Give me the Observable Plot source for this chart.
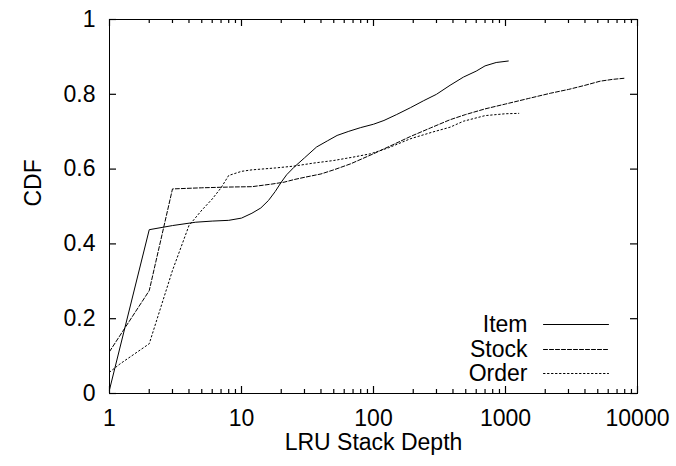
<!DOCTYPE html>
<html><head><meta charset="utf-8">
<script src="https://cdn.jsdelivr.net/npm/d3@7"></script>
<script src="https://cdn.jsdelivr.net/npm/@observablehq/plot@0.6"></script>
<style>body{margin:0;background:#fff}</style>
</head><body><div id="chart"></div>
<script>
const seriesNames = ["Item", "Stock", "Order"];
const dashes = ["none", "4,2", "1.5,2.5"];

const itemX = [1, 2, 3, 4.5, 6, 8, 10, 12, 14, 16, 18, 20, 22, 25, 30, 37, 45, 53, 65, 80, 100, 120, 150, 190, 240, 300, 380, 480, 600, 700, 850, 1050];
const itemY = [0.01, 0.438, 0.449, 0.458, 0.461, 0.463, 0.469, 0.482, 0.496, 0.516, 0.540, 0.565, 0.585, 0.605, 0.630, 0.659, 0.676, 0.690, 0.701, 0.711, 0.720, 0.730, 0.746, 0.764, 0.783, 0.800, 0.824, 0.846, 0.862, 0.876, 0.885, 0.889];

const stockX = [1, 2, 3, 5, 8, 12, 17, 21, 25, 30, 40, 50, 67, 100, 140, 190, 270, 380, 500, 700, 1000, 1500, 2200, 3000, 4000, 5200, 6500, 8000];
const stockY = [0.112, 0.275, 0.547, 0.550, 0.552, 0.553, 0.560, 0.565, 0.572, 0.578, 0.587, 0.598, 0.614, 0.641, 0.665, 0.687, 0.710, 0.732, 0.746, 0.761, 0.774, 0.789, 0.803, 0.813, 0.824, 0.835, 0.840, 0.843];

const orderX = [1, 1.2, 2, 3, 4, 5, 6, 7, 8, 10, 12, 18, 25, 35, 50, 70, 95, 130, 190, 280, 380, 480, 700, 1000, 1260];
const orderY = [0.057, 0.079, 0.133, 0.329, 0.449, 0.490, 0.520, 0.550, 0.583, 0.594, 0.598, 0.603, 0.608, 0.616, 0.623, 0.632, 0.641, 0.657, 0.681, 0.699, 0.712, 0.728, 0.743, 0.748, 0.749];

const xTickValues = [1, 10, 100, 1000, 10000];
const yTickValues = [0, 0.2, 0.4, 0.6, 0.8, 1];
const xMinorTicks = [0, 1, 2, 3].flatMap(e => [2, 3, 4, 5, 6, 7, 8, 9].map(m => m * 10 ** e));

const xs = [itemX, stockX, orderX];
const ys = [itemY, stockY, orderY];
const table = seriesNames.flatMap((s, i) => xs[i].map((x, j) => ({series: s, x, y: ys[i][j]})));

const lineShape = {draw(context, l) { context.moveTo(0, 0); context.lineTo(0, -l); }};
const legendDy = [-69, -44, -20];

const W = 676, H = 466, mL = 109, mR = 39, mT = 19, mB = 73;
const frameW = W - mL - mR, frameH = H - mT - mB;
const majorLen = 7, minorLen = 4;
const tk = {stroke: "#000", strokeWidth: 1.2};

const marks = [
  Plot.frame({stroke: "#000", fill: "none", strokeWidth: 1}),
  // tick labels
  Plot.axisX({ticks: xTickValues, tickSize: 0, tickPadding: 16, tickFormat: d => String(d), label: null}),
  Plot.axisY({ticks: yTickValues, tickSize: 0, tickPadding: 14, tickFormat: d => String(d), label: null}),
  // inward ticks, mirrored on all sides
  Plot.ruleX(xTickValues, {x: d => d, insetTop: frameH - majorLen, ...tk}),
  Plot.ruleX(xTickValues, {x: d => d, insetBottom: frameH - majorLen, ...tk}),
  Plot.ruleX(xMinorTicks, {x: d => d, insetTop: frameH - minorLen, ...tk}),
  Plot.ruleX(xMinorTicks, {x: d => d, insetBottom: frameH - minorLen, ...tk}),
  Plot.ruleY(yTickValues, {y: d => d, insetRight: frameW - majorLen, ...tk}),
  Plot.ruleY(yTickValues, {y: d => d, insetLeft: frameW - majorLen, ...tk}),
  Plot.text(["LRU Stack Depth"], {frameAnchor: "bottom", dy: 49, lineAnchor: "middle", fill: "#000"}),
  Plot.text(["CDF"], {frameAnchor: "left", dx: -76, rotate: -90, lineAnchor: "middle", fill: "#000"}),
  ...seriesNames.map((s, i) => Plot.line(table.filter(d => d.series === s), {x: "x", y: "y", stroke: "#000", strokeWidth: 1, strokeDasharray: dashes[i]})),
  ...seriesNames.map((s, i) => Plot.text([s], {frameAnchor: "bottom-right", dx: -110, dy: legendDy[i], textAnchor: "end", lineAnchor: "middle", fill: "#000"})),
  ...seriesNames.map((s, i) => Plot.vector([s], {frameAnchor: "bottom-right", dx: -94, dy: legendDy[i], length: 65, rotate: 90, anchor: "start", shape: lineShape, stroke: "#000", strokeWidth: 1, strokeDasharray: dashes[i]}))
];

const chart = Plot.plot({
  width: W, height: H,
  marginLeft: mL, marginRight: mR, marginTop: mT, marginBottom: mB,
  style: {fontFamily: "'Liberation Sans', Arial, Helvetica, sans-serif", fontSize: "23px", background: "#fff", color: "#000"},
  x: {type: "log", domain: [1, 10000]},
  y: {domain: [0, 1]},
  marks
});
document.getElementById("chart").appendChild(chart);
</script>
</body></html>
